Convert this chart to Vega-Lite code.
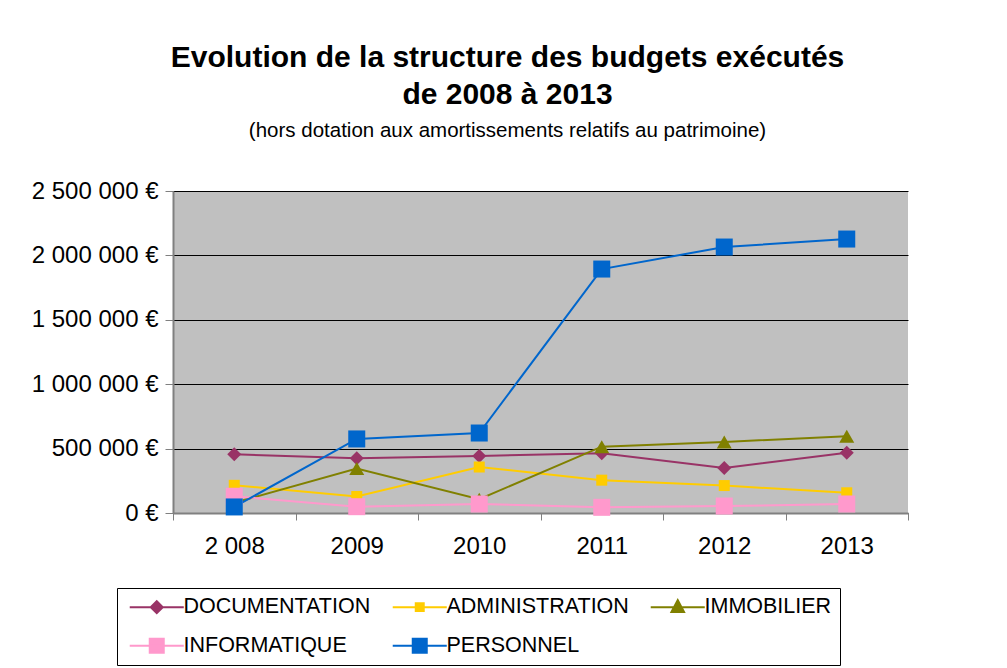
{
  "$schema": "https://vega.github.io/schema/vega-lite/v6.json",
  "width": 735,
  "height": 322,
  "autosize": {"type": "none"},
  "padding": {"left": 173, "top": 191, "right": 99, "bottom": 155},
  "background": "white",
  "title": {
    "text": ["Evolution de la structure des budgets exécutés", "de 2008 à 2013"],
    "subtitle": "(hors dotation aux amortissements relatifs au patrimoine)",
    "anchor": "middle",
    "frame": "group",
    "dx": -33,
    "offset": 38,
    "font": "Liberation Sans",
    "fontSize": 30,
    "fontWeight": "bold",
    "lineHeight": 37,
    "color": "black",
    "subtitleFont": "Liberation Sans",
    "subtitleFontSize": 20.5,
    "subtitleColor": "black",
    "subtitlePadding": 11
  },
  "data": {
    "values": [
      {"year": 2008, "series": "DOCUMENTATION", "value": 456000},
      {"year": 2009, "series": "DOCUMENTATION", "value": 425000},
      {"year": 2010, "series": "DOCUMENTATION", "value": 443000},
      {"year": 2011, "series": "DOCUMENTATION", "value": 463000},
      {"year": 2012, "series": "DOCUMENTATION", "value": 349000},
      {"year": 2013, "series": "DOCUMENTATION", "value": 468000},
      {"year": 2008, "series": "ADMINISTRATION", "value": 215000},
      {"year": 2009, "series": "ADMINISTRATION", "value": 128000},
      {"year": 2010, "series": "ADMINISTRATION", "value": 357000},
      {"year": 2011, "series": "ADMINISTRATION", "value": 255000},
      {"year": 2012, "series": "ADMINISTRATION", "value": 213000},
      {"year": 2013, "series": "ADMINISTRATION", "value": 157000},
      {"year": 2008, "series": "IMMOBILIER", "value": 80000},
      {"year": 2009, "series": "IMMOBILIER", "value": 345000},
      {"year": 2010, "series": "IMMOBILIER", "value": 107000},
      {"year": 2011, "series": "IMMOBILIER", "value": 515000},
      {"year": 2012, "series": "IMMOBILIER", "value": 552000},
      {"year": 2013, "series": "IMMOBILIER", "value": 596000},
      {"year": 2008, "series": "INFORMATIQUE", "value": 130000},
      {"year": 2009, "series": "INFORMATIQUE", "value": 49000},
      {"year": 2010, "series": "INFORMATIQUE", "value": 70000},
      {"year": 2011, "series": "INFORMATIQUE", "value": 44000},
      {"year": 2012, "series": "INFORMATIQUE", "value": 54000},
      {"year": 2013, "series": "INFORMATIQUE", "value": 70000},
      {"year": 2008, "series": "PERSONNEL", "value": 47000},
      {"year": 2009, "series": "PERSONNEL", "value": 575000},
      {"year": 2010, "series": "PERSONNEL", "value": 621000},
      {"year": 2011, "series": "PERSONNEL", "value": 1894000},
      {"year": 2012, "series": "PERSONNEL", "value": 2065000},
      {"year": 2013, "series": "PERSONNEL", "value": 2127000}
    ]
  },
  "encoding": {
    "x": {
      "field": "year",
      "type": "quantitative",
      "scale": {"domain": [2007.5, 2013.5], "nice": false, "zero": false},
      "axis": {
        "title": null,
        "values": [2007.5, 2008.5, 2009.5, 2010.5, 2011.5, 2012.5, 2013.5],
        "labelExpr": "datum.value == 2007.5 ? '2 008' : (datum.value > 2013 ? '' : '' + (datum.value + 0.5))",
        "labelOffset": 61.25,
        "labelFlush": false,
        "labelOverlap": false,
        "labelFont": "Liberation Sans",
        "labelFontSize": 24,
        "labelColor": "black",
        "labelPadding": 14,
        "tickSize": 7,
        "tickColor": "#808080",
        "tickWidth": 1,
        "domainColor": "#808080",
        "domainWidth": 2,
        "grid": false
      }
    },
    "y": {
      "field": "value",
      "type": "quantitative",
      "scale": {"domain": [0, 2500000], "nice": false},
      "axis": {
        "title": null,
        "values": [0, 500000, 1000000, 1500000, 2000000, 2500000],
        "labelExpr": "replace(format(datum.value, ','), /,/g, ' ') + ' €'",
        "labelFont": "Liberation Sans",
        "labelFontSize": 24,
        "labelColor": "black",
        "labelPadding": 7,
        "tickSize": 8,
        "tickColor": "#808080",
        "tickWidth": 1,
        "domainColor": "#808080",
        "domainWidth": 2,
        "grid": true,
        "gridColor": "black",
        "gridWidth": 1,
        "gridOpacity": 1
      }
    }
  },
  "layer": [
    {
      "mark": {"type": "line", "strokeWidth": 2},
      "encoding": {
        "color": {
          "field": "series",
          "type": "nominal",
          "scale": {
            "domain": ["DOCUMENTATION", "ADMINISTRATION", "IMMOBILIER", "INFORMATIQUE", "PERSONNEL"],
            "range": ["#993366", "#FFCC00", "#808000", "#FF99CC", "#0066CC"]
          },
          "legend": {
            "title": null,
            "orient": "none",
            "legendX": -56,
            "legendY": 397,
            "direction": "horizontal",
            "columns": 3,
            "strokeColor": "black",
            "padding": 8,
            "columnPadding": 17,
            "rowPadding": 16,
            "labelFont": "Liberation Sans",
            "labelFontSize": 21.5,
            "labelColor": "black",
            "labelLimit": 400,
            "labelOffset": 37,
            "symbolSize": 196,
            "symbolStrokeWidth": 2,
            "symbolOpacity": 1,
            "encode": {
              "symbols": {
                "update": {
                  "shape": {"signal": "datum.value == 'DOCUMENTATION' ? 'M-0.86,0H6.86M2.14,0L3,-0.86L3.86,0L3,0.86Z' : datum.value == 'ADMINISTRATION' ? 'M-0.86,0H6.86M2.43,-0.57H3.57V0.57H2.43Z' : datum.value == 'IMMOBILIER' ? 'M-0.86,0H6.86M2.1,0.7L3,-1L3.9,0.7Z' : 'M-0.86,0H6.86M2,-1H4V1H2Z'"},
                  "fill": {"signal": "datum.value == 'DOCUMENTATION' ? '#993366' : datum.value == 'ADMINISTRATION' ? '#FFCC00' : datum.value == 'IMMOBILIER' ? '#808000' : datum.value == 'INFORMATIQUE' ? '#FF99CC' : '#0066CC'"},
                  "stroke": {"signal": "datum.value == 'DOCUMENTATION' ? '#993366' : datum.value == 'ADMINISTRATION' ? '#FFCC00' : datum.value == 'IMMOBILIER' ? '#808000' : datum.value == 'INFORMATIQUE' ? '#FF99CC' : '#0066CC'"}
                }
              }
            }
          }
        }
      }
    },
    {
      "mark": {"type": "point", "filled": true, "opacity": 1, "strokeWidth": 0},
      "encoding": {
        "color": {
          "field": "series",
          "type": "nominal",
          "scale": {
            "domain": ["DOCUMENTATION", "ADMINISTRATION", "IMMOBILIER", "INFORMATIQUE", "PERSONNEL"],
            "range": ["#993366", "#FFCC00", "#808000", "#FF99CC", "#0066CC"]
          },
          "legend": null
        },
        "shape": {
          "field": "series",
          "type": "nominal",
          "scale": {
            "domain": ["DOCUMENTATION", "ADMINISTRATION", "IMMOBILIER", "INFORMATIQUE", "PERSONNEL"],
            "range": ["diamond", "square", "triangle-up", "square", "square"]
          },
          "legend": null
        },
        "size": {
          "field": "series",
          "type": "nominal",
          "scale": {
            "type": "ordinal",
            "domain": ["DOCUMENTATION", "ADMINISTRATION", "IMMOBILIER", "INFORMATIQUE", "PERSONNEL"],
            "range": [196, 121, 225, 289, 289]
          },
          "legend": null
        }
      }
    }
  ],
  "resolve": {"scale": {"color": "independent"}, "legend": {"color": "independent"}},
  "config": {
    "view": {"fill": "#C0C0C0", "stroke": null}
  }
}
